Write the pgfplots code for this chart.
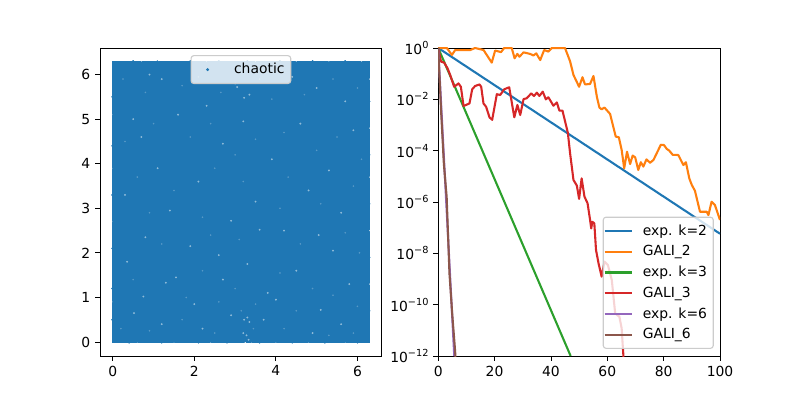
\documentclass[border=0pt]{standalone}
\usepackage{fontspec}
\setmainfont{DejaVu Sans}
\usepackage{pgfplots}
\usepackage{pgfplotstable}
\pgfplotsset{compat=1.18}
\definecolor{tabblue}{HTML}{1F77B4}
\definecolor{taborange}{HTML}{FF7F0E}
\definecolor{tabgreen}{HTML}{2CA02C}
\definecolor{tabred}{HTML}{D62728}
\definecolor{tabpurple}{HTML}{9467BD}
\definecolor{tabbrown}{HTML}{8C564B}
\definecolor{leg}{HTML}{CCCCCC}
\newcommand\fs{\fontsize{10bp}{12bp}\selectfont}
\newcommand\tp[1]{10\raisebox{0.42em}{\fontsize{7bp}{8bp}\selectfont #1}}
\pgfplotstableread{
x e
0 0
3.07 0
4.85 -0.27
6.03 -0.08
11.35 -0.08
13.1 0
16.1 -0.08
19.0 -0.57
20.2 -0.10
22.3 -0.16
23.4 0
26.1 0
27.1 -0.40
28.1 -0.23
28.8 -0.34
30.3 -0.17
32.6 -0.23
33.8 -0.29
34.8 -0.21
36.2 -0.47
37.6 -0.08
39.1 -0.14
40.3 0
45.0 0
46.8 -0.52
48.0 -1.05
50.0 -1.51
51.2 -1.14
52.1 -1.42
53.9 -1.40
55.1 -1.09
56.3 -1.90
57.2 -2.32
58.0 -2.39
59.0 -2.32
61.0 -2.57
63.0 -3.45
64.1 -3.48
65.1 -3.97
66.0 -4.69
67.0 -4.04
68.1 -4.52
69.0 -4.19
69.9 -4.26
71.0 -4.75
71.9 -4.45
72.8 -4.62
73.9 -4.34
75.2 -4.47
76.4 -4.36
79.0 -3.77
80.1 -3.78
81.1 -3.93
82.0 -4.00
83.2 -4.16
85.2 -4.17
87.0 -4.56
87.9 -4.45
89.1 -5.08
90.0 -5.34
91.1 -5.56
92.9 -6.38
95.3 -6.38
95.9 -6.51
97.0 -5.99
98.2 -6.12
100 -6.70
}\galitwo
\pgfplotstableread{
x e
0 0
1.0 -0.53
2.1 -0.57
3.3 -0.79
4.25 -1.05
5.67 -1.51
7.2 -1.38
8.04 -1.51
9.0 -2.26
11.1 -2.16
12.06 -1.61
13.1 -1.48
14.66 -1.42
15.25 -1.51
16.07 -2.16
17.0 -2.29
18.2 -2.70
19.15 -2.80
20.8 -1.80
22.0 -1.83
23.4 -1.61
25.2 -1.53
27.0 -2.70
28.1 -2.22
29.1 -2.61
30.3 -1.99
31.4 -1.96
33.0 -1.77
34.0 -1.87
35.0 -1.74
35.9 -1.87
37.1 -1.70
38.2 -2.00
39.1 -1.92
40.9 -2.25
42.1 -2.12
43.0 -2.44
44.1 -2.44
46.0 -3.30
46.8 -4.10
48.0 -5.14
49.2 -5.36
50.0 -5.88
50.9 -5.08
51.9 -5.79
53.0 -6.05
53.9 -6.70
54.3 -7.03
54.7 -6.77
55.4 -6.83
56.0 -7.87
56.9 -8.39
58.0 -8.91
59.0 -8.32
60.2 -8.45
61.6 -9.04
62.8 -10.34
64.3 -10.47
65.1 -10.92
65.7 -11.96
66.2 -13
}\galithree
\pgfplotstableread{
x e
0 0
1 -2.4
2 -4.5
3 -5.8
4 -8.8
5 -10.4
6 -11.8
7 -14
}\galisix
\begin{document}
\begin{tikzpicture}
\path[use as bounding box] (0in,0in) rectangle (8in,4in);
\begin{axis}[
  at={(1in,0.44in)},anchor=south west,scale only axis,
  width=2.818in,height=3.08in,
  xmin=-0.314,xmax=6.597,ymin=-0.314,ymax=6.597,
  xtick={0,2,4,6},ytick={0,1,2,3,4,5,6},
  xtick pos=bottom,ytick pos=left,tick align=outside,
  major tick length=3.5bp,
  every tick/.style={black,line width=0.6bp},
  axis line style={line width=0.6bp},
  tick label style={font=\fs},
  /pgf/number format/assume math mode=true,
  legend cell align=left,
  legend style={at={(0.5,0.977)},anchor=north,font=\fs,
    draw=leg,line width=0.8bp,rounded corners=2bp,fill=white,fill opacity=0.8,text opacity=1,draw opacity=1,
    inner xsep=2.5bp,inner ysep=3.5bp},
  legend image code/.code={\path[draw=none] (0bp,0bp) -- (26.5bp,0bp); \path[#1,draw=none,only marks] plot coordinates {(9.4bp,0bp)};},
]
\addplot[forget plot,fill=tabblue,draw=tabblue,line width=0.8bp] coordinates {(0,0)(6.283,0)(6.283,6.283)(0,6.283)} \closedcycle;
\addplot[only marks,mark=*,mark size=0.6bp,color=tabblue,mark options={draw=none,fill=tabblue}] coordinates {
(-0.01,0.5)(-0.01,1.2)(-0.01,2.1)(-0.01,3.3)(-0.01,4.4)(-0.01,5.5)(6.29,0.7)(6.29,1.9)(6.29,3.1)(6.29,4.2)(6.29,5.4)
(0.5,6.3)(1.1,6.3)(1.9,6.3)(2.6,6.3)(3.3,6.3)(4.1,6.3)(4.9,6.3)(5.7,6.3)
(0.4,-0.01)(1.2,-0.01)(2.1,-0.01)(2.8,-0.01)(3.6,-0.01)(4.4,-0.01)(5.2,-0.01)(6.0,-0.01)
(1.0,1.0)(2.0,2.0)(3.0,3.0)(4.0,4.0)(5.0,5.0)
};
\addlegendentry{chaotic}
\addplot[forget plot,only marks,mark=*,mark size=0.45bp,color=tabblue!50!white,mark options={draw=none,fill=tabblue!50!white}] coordinates {
(3.05,5.72)(3.0,5.80)(3.22,5.48)(3.35,5.55)(1.2,5.9)(0.9,6.0)(4.4,5.95)(5.0,5.7)(5.7,5.4)(2.3,5.3)(1.6,5.1)(0.5,5.0)
(3.2,4.95)(4.6,4.9)(5.9,4.75)(0.7,4.6)(2.7,4.45)(1.1,3.9)(3.9,4.1)(5.3,3.85)(2.1,3.6)(0.3,3.3)(4.8,3.4)(3.5,3.15)
(1.4,2.95)(5.6,2.9)(2.9,2.72)(4.2,2.5)(3.6,2.52)(0.8,2.35)(5.05,2.4)(1.9,2.15)(2.6,1.95)(5.4,2.05)(0.35,1.8)
(3.3,1.75)(4.5,1.6)(1.55,1.45)(2.7,1.4)(5.8,1.3)(1.3,1.33)(3.8,1.1)(0.75,1.02)(0.52,0.65)(2.0,0.85)(2.9,0.6)(4.0,0.95)
(5.1,0.72)(3.3,0.55)(3.35,0.45)(3.22,0.5)(3.28,0.15)(3.33,0.05)(3.2,0.2)(3.7,0.5)(1.2,0.4)(5.6,0.4)(4.9,0.2)(2.2,0.3)
};
\addplot[forget plot,only marks,mark=*,mark size=0.35bp,color=tabblue!75!white,mark options={draw=none,fill=tabblue!75!white}] coordinates {
(0.25,5.9)(0.8,5.6)(1.7,5.75)(2.1,5.95)(2.65,5.6)(3.6,5.9)(3.9,5.45)(4.7,5.55)(5.4,5.9)(6.0,5.7)
(0.3,4.5)(1.0,4.9)(1.9,4.6)(2.4,4.9)(3.0,4.2)(3.5,4.55)(4.2,4.7)(5.0,4.3)(5.5,4.6)(6.1,4.1)
(0.6,3.7)(1.5,3.4)(2.5,3.9)(3.2,3.6)(4.3,3.7)(4.1,3.0)(5.1,3.1)(5.9,3.5)(0.9,2.9)(2.2,2.8)
(3.1,2.3)(1.2,2.2)(2.4,2.4)(4.6,2.2)(5.7,2.45)(6.05,2.0)(0.5,1.4)(2.2,1.6)(3.0,1.2)(4.1,1.55)
(4.9,1.2)(5.4,1.05)(1.8,1.0)(2.6,0.9)(3.5,0.85)(4.5,0.7)(6.0,0.8)(0.2,0.3)(0.9,0.25)(1.7,0.5)
(2.5,0.2)(4.2,0.3)(5.3,0.15)(5.9,0.2)(3.45,0.3)(3.15,0.7)
};
\addplot[forget plot,only marks,mark=*,mark size=0.6bp,color=white,mark options={draw=none,fill=white}] coordinates {
(0.7,6.32)(1.12,6.33)(2.3,6.32)(3.5,6.32)(4.5,6.32)(5.3,6.32)(6.1,6.32)
(0.6,-0.04)(1.5,-0.04)(2.4,-0.04)(3.25,-0.03)(3.4,-0.04)(4.0,-0.04)(4.8,-0.04)(5.7,-0.04)
(-0.04,0.9)(-0.04,2.7)(-0.04,3.9)(-0.04,5.1)(6.32,1.3)(6.32,2.5)(6.32,3.7)(6.32,4.8)(6.32,5.9)
};
\end{axis}
\begin{axis}[
  at={(4.382in,0.44in)},anchor=south west,scale only axis,
  width=2.818in,height=3.08in,
  xmin=0,xmax=100,ymode=log,ymin=1e-12,ymax=1,
  xtick={0,20,40,60,80,100},
  ytick={1e-12,1e-10,1e-8,1e-6,1e-4,1e-2,1},
  yticklabels={\tp{−12},\tp{−10},\tp{−8},\tp{−6},\tp{−4},\tp{−2},\tp{0}},
  yminorticks=false,xminorticks=false,
  xtick pos=bottom,ytick pos=left,tick align=outside,
  major tick length=3.5bp,
  every tick/.style={black,line width=0.6bp},
  axis line style={line width=0.6bp},
  tick label style={font=\fs},
  /pgf/number format/assume math mode=true,
  legend cell align=left,
  legend style={at={(0.978,0.023)},anchor=south east,font=\fs,
    draw=leg,line width=0.8bp,rounded corners=2bp,fill=white,fill opacity=0.8,text opacity=1,draw opacity=1,
    inner xsep=2.5bp,inner ysep=3.5bp,row sep=1.9bp},
  legend image code/.code={\path[draw=none] (0bp,0bp) -- (24bp,0bp); \draw[overlay,#1,line width=1.5bp] (-1.5bp,0bp) -- (18.5bp,0bp);},
  every axis plot/.append style={line width=1.5bp,line join=round},
]
\addplot[tabblue] coordinates {(0,1)(100,5.8e-8)};
\addlegendentry{exp. k=2}
\addplot[taborange] table[x=x,y expr=10^(\thisrow{e})] {\galitwo};
\addlegendentry{GALI\_2}
\addplot[tabgreen] coordinates {(0,1)(47,1e-12)};
\addlegendentry{exp. k=3}
\addplot[tabred] table[x=x,y expr=10^(\thisrow{e})] {\galithree};
\addlegendentry{GALI\_3}
\addplot[tabpurple] coordinates {(0,1)(5.7,1e-12)};
\addlegendentry{exp. k=6}
\addplot[tabbrown] table[x=x,y expr=10^(\thisrow{e})] {\galisix};
\addlegendentry{GALI\_6}
\end{axis}
\end{tikzpicture}
\end{document}
